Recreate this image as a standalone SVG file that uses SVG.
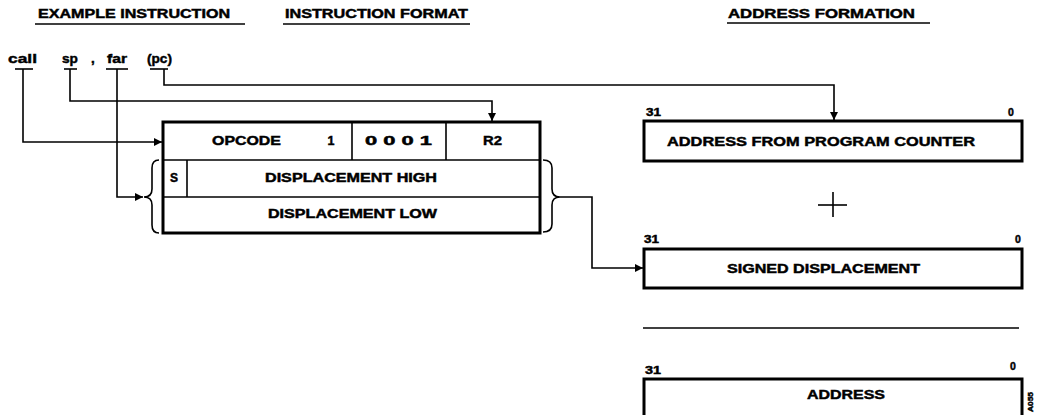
<svg xmlns="http://www.w3.org/2000/svg" width="1039" height="415" viewBox="0 0 1039 415">
<defs>
<style>
text{font-family:"Liberation Sans",Arial,sans-serif;font-weight:bold;fill:#000;stroke:#000;stroke-width:0.45}
.t{font-size:12.5px}
.lc{font-size:13.5px}
.s{font-size:10.5px}
.ln{fill:none;stroke:#000;stroke-width:1.6}
.box{fill:#fff;stroke:#000;stroke-width:3}
.div{fill:none;stroke:#000;stroke-width:1.6}
</style>
<marker id="ah" viewBox="0 0 10 10" refX="10" refY="5" markerWidth="10" markerHeight="8" markerUnits="userSpaceOnUse" orient="auto">
<path d="M0,0 L10,5 L0,10 Z" fill="#000"/>
</marker>
</defs>
<rect width="1039" height="415" fill="#fff"/>

<g id="headers">
<text class="t" x="38" y="18" textLength="192" lengthAdjust="spacingAndGlyphs">EXAMPLE INSTRUCTION</text>
<line class="ln" x1="35" y1="24" x2="245" y2="24"/>
<text class="t" x="285" y="18" textLength="183" lengthAdjust="spacingAndGlyphs">INSTRUCTION FORMAT</text>
<line class="ln" x1="283" y1="24" x2="470" y2="24"/>
<text class="t" x="728" y="18" textLength="187" lengthAdjust="spacingAndGlyphs">ADDRESS FORMATION</text>
<line class="ln" x1="727" y1="23" x2="930" y2="23"/>
</g>

<g id="example-instruction">
<text class="lc" x="8" y="63" textLength="29" lengthAdjust="spacingAndGlyphs">call</text>
<text class="lc" x="62" y="63" textLength="16" lengthAdjust="spacingAndGlyphs">sp</text>
<text class="lc" x="91" y="63">,</text>
<text class="lc" x="107" y="63" textLength="20" lengthAdjust="spacingAndGlyphs">far</text>
<text class="lc" x="147" y="63" textLength="25" lengthAdjust="spacingAndGlyphs">(pc)</text>
<line class="ln" x1="15" y1="69" x2="33" y2="69"/>
<line class="ln" x1="64" y1="69" x2="77" y2="69"/>
<line class="ln" x1="106" y1="69" x2="128" y2="69"/>
<line class="ln" x1="150" y1="69" x2="168" y2="69"/>
</g>

<g id="instruction-format">
<rect class="box" x="163" y="122" width="377" height="111"/>
<line class="div" x1="163" y1="160" x2="540" y2="160"/>
<line class="div" x1="163" y1="197" x2="540" y2="197"/>
<line class="div" x1="352" y1="122" x2="352" y2="160"/>
<line class="div" x1="446" y1="122" x2="446" y2="160"/>
<line class="div" x1="187" y1="160" x2="187" y2="197"/>
<text class="t" x="212" y="145" textLength="69" lengthAdjust="spacingAndGlyphs">OPCODE</text>
<text class="t" x="331" y="145" text-anchor="middle">1</text>
<text class="t" x="365" y="145" textLength="67" lengthAdjust="spacingAndGlyphs">0 0 0 1</text>
<text class="t" x="483" y="145" textLength="19" lengthAdjust="spacingAndGlyphs">R2</text>
<text class="t" x="170" y="182" textLength="8" lengthAdjust="spacingAndGlyphs">S</text>
<text class="t" x="265" y="182" textLength="172" lengthAdjust="spacingAndGlyphs">DISPLACEMENT HIGH</text>
<text class="t" x="268" y="218" textLength="169" lengthAdjust="spacingAndGlyphs">DISPLACEMENT LOW</text>
<path class="ln" d="M159,160 Q152,160 152,168 V189 Q152,197 144,197 Q152,197 152,205 V225 Q152,233 159,233"/>
<path class="ln" d="M543,160 Q552,160 552,168 V189 Q552,197 560,197 Q552,197 552,205 V224 Q552,232 543,232"/>
</g>

<g id="address-from-pc">
<text class="s" x="646" y="116" textLength="15" lengthAdjust="spacingAndGlyphs">31</text>
<text class="s" x="1008" y="116">0</text>
<rect class="box" x="644" y="121" width="378" height="40"/>
<text class="t" x="667" y="146" textLength="308" lengthAdjust="spacingAndGlyphs">ADDRESS FROM PROGRAM COUNTER</text>
</g>

<g id="plus">
<line class="ln" x1="818" y1="205" x2="847" y2="205"/>
<line class="ln" x1="833" y1="192" x2="833" y2="217"/>
</g>

<g id="signed-displacement">
<text class="s" x="644" y="243" textLength="15" lengthAdjust="spacingAndGlyphs">31</text>
<text class="s" x="1015" y="243">0</text>
<rect class="box" x="644" y="249" width="378" height="39"/>
<text class="t" x="727" y="273" textLength="193" lengthAdjust="spacingAndGlyphs">SIGNED DISPLACEMENT</text>
</g>

<g id="sum-line">
<line class="ln" x1="643" y1="328" x2="1019" y2="328"/>
</g>

<g id="address">
<text class="s" x="645" y="374" textLength="16" lengthAdjust="spacingAndGlyphs">31</text>
<text class="s" x="1010" y="370">0</text>
<rect class="box" x="644" y="379" width="378" height="45"/>
<text class="t" x="807" y="399" textLength="78" lengthAdjust="spacingAndGlyphs">ADDRESS</text>
</g>

<g id="figure-id">
<text x="1033" y="412" font-size="7.5" transform="rotate(-90 1033 412)" textLength="20" lengthAdjust="spacingAndGlyphs">A055</text>
</g>

<g id="connectors">
<path class="ln" d="M23,69 V142 H162" marker-end="url(#ah)"/>
<path class="ln" d="M70,69 V101 H492 V121" marker-end="url(#ah)"/>
<path class="ln" d="M117,69 V197 H143" marker-end="url(#ah)"/>
<path class="ln" d="M164,69 V85 H834 V120" marker-end="url(#ah)"/>
<path class="ln" d="M560,197 H592 V268 H643" marker-end="url(#ah)"/>
</g>
</svg>
